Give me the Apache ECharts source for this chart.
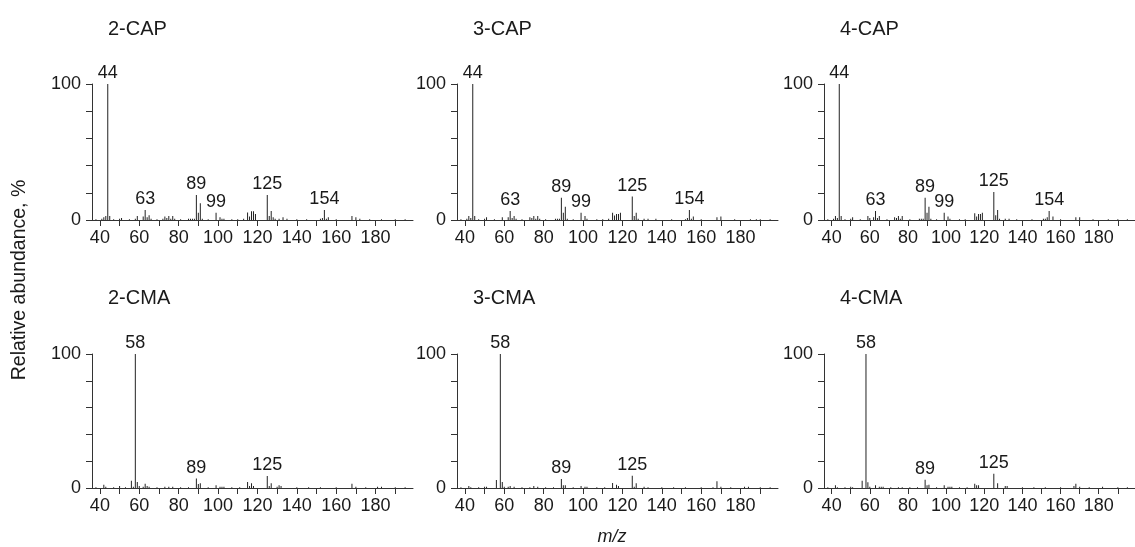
<!DOCTYPE html>
<html><head><meta charset="utf-8">
<script src="https://cdn.jsdelivr.net/npm/echarts@6/dist/echarts.min.js"></script>
<style>html,body{margin:0;padding:0;background:#fff}#c{width:1135px;height:547px}</style>
</head><body><div id="c"></div><script>
// ---- data ----
const panelTitles = ['2-CAP', '3-CAP', '4-CAP', '2-CMA', '3-CMA', '4-CMA'];
const xTickValues = [40, 50, 60, 70, 80, 90, 100, 110, 120, 130, 140, 150, 160, 170, 180, 190];
const xTickLabels = [40, 60, 80, 100, 120, 140, 160, 180];
const yTickValues = [0, 20, 40, 60, 80, 100];
const yTickLabels = [0, 100];
const capLabels = [44, 63, 89, 99, 125, 154];
const cmaLabels = [58, 89, 125];

const cap2 = [[38,0.5],[41,1],[42,2],[43,3],[44,100],[45,3],[47,0.5],[50,1],[51,1.5],[55,0.5],[58,1],[59,3],[62,2.5],[63,7.3],[64,2],[65,3.5],[66,1],[69,0.5],[72,1],[73,2.5],[74,1.5],[75,3],[76,1],[77,3],[78,1],[81,0.5],[85,1],[86,1],[87,1],[88,1],[89,18.4],[90,5.4],[91,12.3],[92,1],[95,0.5],[99,5.4],[101,2],[102,1],[103,1],[107,0.5],[110,0.5],[113,1],[115,5.6],[116,2.5],[117,6.4],[118,6.4],[119,4.4],[125,18.4],[126,3],[127,6.6],[128,2],[129,1],[131,1],[133,2],[135,1],[140,0.5],[145,0.5],[152,1],[153,1.5],[154,7.3],[155,1],[156,2],[160,0.5],[168,3],[170,2],[172,1],[177,0.5],[183,0.5],[190,0.5],[195,0.5]];
const cap3 = [[38,0.5],[41,1],[42,3],[43,1.5],[44,100],[45,3],[47,0.5],[50,1],[51,2],[55,0.5],[59,2],[62,2],[63,6.6],[64,1.5],[65,3],[66,1],[69,0.5],[73,2],[74,1.5],[75,3],[76,1],[77,3],[78,1],[81,0.5],[86,1],[87,1],[88,1],[89,16.4],[90,5.4],[91,9.8],[92,1],[95,0.5],[99,5.4],[101,3],[102,1],[107,0.5],[110,0.5],[113,1],[115,5.4],[116,3.4],[117,4.4],[118,4.4],[119,5.4],[125,17.2],[126,3],[127,5.4],[128,1],[131,1],[133,1],[137,1],[145,0.5],[152,0.5],[153,1.5],[154,7.3],[155,1],[156,2.5],[160,0.5],[168,2],[170,2.5],[177,0.5],[185,0.5],[188,0.5],[190,0.5],[195,0.5]];
const cap4 = [[38,0.5],[41,1],[42,3],[43,1.5],[44,100],[45,3],[47,0.5],[50,1],[51,2],[55,0.5],[59,3],[60,1.5],[62,2],[63,6.6],[64,1.5],[65,3],[69,0.5],[73,2],[74,1.5],[75,3],[76,1],[77,3],[81,0.5],[86,1],[87,1],[88,1],[89,16.4],[90,5.4],[91,9.8],[92,1],[95,0.5],[99,5.4],[101,2.5],[102,1],[107,0.5],[110,0.5],[115,5],[116,2.5],[117,4.4],[118,4.4],[119,5.4],[125,20.6],[126,3.5],[127,7.3],[128,1],[131,1],[133,1],[137,0.5],[145,0.5],[151,1],[152,1],[153,2],[154,6.6],[156,2.5],[160,0.5],[168,2],[170,2],[177,0.5],[185,0.5],[190,0.5],[195,0.5]];
const cma2 = [[38,0.5],[42,2.5],[43,1],[47,0.5],[50,1.5],[53,0.5],[56,5.5],[57,1],[58,100],[59,4.5],[60,1.5],[62,1],[63,3.2],[64,1.5],[65,1],[69,0.5],[73,1],[75,1],[77,1],[81,0.5],[85,0.5],[89,7],[90,3],[91,3.5],[95,0.5],[99,2],[101,1],[102,1],[103,1],[107,0.5],[111,0.5],[115,4.5],[116,1.5],[117,3.5],[118,1.5],[125,8.9],[126,1.5],[127,3.5],[130,1],[131,2],[132,1.5],[140,0.5],[146,0.5],[152,0.5],[160,0.5],[168,3.2],[170,1],[175,0.5],[181,1],[183,1],[190,0.5],[195,0.5]];
const cma3 = [[38,0.5],[42,1.5],[43,0.5],[47,0.5],[50,1],[51,1],[56,6],[58,100],[59,4.5],[60,1],[62,1],[63,1.5],[65,1],[69,0.5],[73,0.5],[75,1.5],[77,1],[81,0.5],[85,0.5],[89,6.7],[90,2],[91,2],[95,0.5],[99,1.5],[101,1],[102,1],[107,0.5],[111,0.5],[115,3.7],[117,2.5],[118,1.5],[125,9.1],[126,1],[127,3.5],[131,1],[133,0.5],[140,0.5],[146,0.5],[152,0.5],[160,0.5],[166,0.5],[168,5],[170,1],[175,0.5],[182,1],[184,1],[190,0.5],[195,0.5]];
const cma4 = [[38,0.5],[42,2],[43,0.5],[47,0.5],[50,1],[51,0.5],[56,5.5],[58,100],[59,4.2],[60,1],[63,2],[65,1],[66,1],[67,1],[71,0.5],[75,0.5],[77,0.5],[81,0.5],[85,0.5],[89,6.2],[90,2],[91,2.5],[95,0.5],[99,2],[101,1],[102,1],[103,1],[107,0.5],[111,0.5],[115,3.2],[116,2],[117,2],[125,10.7],[127,3.5],[131,1.5],[132,1.5],[140,0.5],[146,0.5],[152,0.5],[160,0.5],[167,1.5],[168,3.2],[170,1],[175,0.5],[182,1],[190,0.5],[195,0.5]];

const spectra = [cap2, cap3, cap4, cma2, cma3, cma4];
const peakLabels = [capLabels, capLabels, capLabels, cmaLabels, cmaLabels, cmaLabels];

// ---- layout ----
const FONT = '"Liberation Sans", Arial, Helvetica, sans-serif';
const lefts = [92, 457, 824];
const tops = [84, 354];
const heights = [136, 134];
const gridW = 321;
const titleTops = [19, 288];
const axisColor = '#333';
const textColor = '#1a1a1a';

const grid = [], xAxis = [], yAxis = [], series = [], title = [];
for (let i = 0; i < 6; i++) {
  const r = Math.floor(i / 3), c = i % 3;
  grid.push({left: lefts[c], top: tops[r], width: gridW, height: heights[r], containLabel: false});
  xAxis.push({
    type: 'value', gridIndex: i, min: 36, max: 199,
    axisLine: {show: true, lineStyle: {color: axisColor, width: 1}},
    axisTick: {show: true, length: 6, customValues: xTickValues, lineStyle: {color: axisColor, width: 1}},
    axisLabel: {show: true, customValues: xTickLabels, margin: 9, fontSize: 18, color: textColor, fontFamily: FONT},
    splitLine: {show: false}
  });
  yAxis.push({
    type: 'value', gridIndex: i, min: 0, max: 100, interval: 20,
    axisLine: {show: true, lineStyle: {color: axisColor, width: 1}},
    axisTick: {show: true, length: 6, customValues: yTickValues, lineStyle: {color: axisColor, width: 1}},
    axisLabel: {show: true, customValues: yTickLabels, margin: 11, fontSize: 18, color: textColor, fontFamily: FONT},
    splitLine: {show: false}
  });
  const labs = peakLabels[i];
  series.push({
    type: 'bar', xAxisIndex: i, yAxisIndex: i, barWidth: 1, silent: true,
    itemStyle: {color: '#222'},
    label: {show: false, position: 'top', distance: 2, fontSize: 18, color: textColor, fontFamily: FONT},
    data: spectra[i].map(p => labs.indexOf(p[0]) >= 0
      ? {value: p, label: {show: true, formatter: String(p[0])}}
      : {value: p})
  });
  title.push({
    text: panelTitles[i], left: lefts[c] + 16, top: titleTops[r], padding: 0,
    textStyle: {fontSize: 20, fontWeight: 'normal', color: textColor, fontFamily: FONT}
  });
}

const chart = echarts.init(document.getElementById('c'), null, {renderer: 'canvas'});
chart.setOption({
  animation: false,
  backgroundColor: '#fff',
  title, grid, xAxis, yAxis, series,
  graphic: [
    {type: 'text', x: 20, y: 280, rotation: Math.PI / 2,
     style: {text: 'Relative abundance, %', font: '19.5px ' + FONT, fill: textColor, textAlign: 'center', textVerticalAlign: 'middle'}},
    {type: 'text', x: 612, y: 537,
     style: {text: 'm/z', font: 'italic 18px ' + FONT, fill: textColor, textAlign: 'center', textVerticalAlign: 'middle'}}
  ]
});
</script></body></html>
